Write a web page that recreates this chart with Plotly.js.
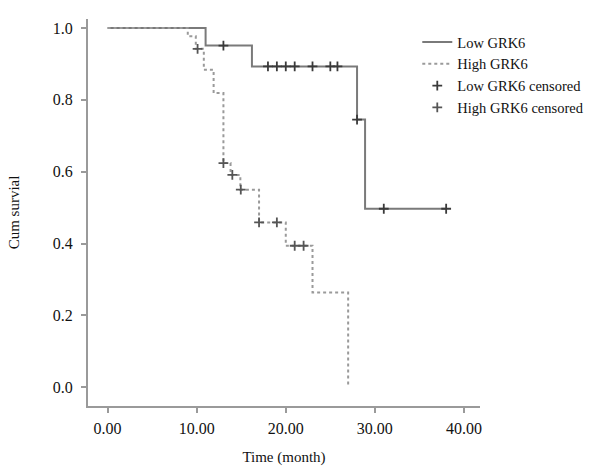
<!DOCTYPE html>
<html>
<head>
<meta charset="utf-8">
<script src="https://cdn.plot.ly/plotly-3.0.1.min.js"></script>
<style>html,body{margin:0;padding:0;background:#fff}#chart{width:615px;height:466px}</style>
</head>
<body>
<div id="chart"></div>
<script>
// Kaplan-Meier step points (time in months, cumulative survival)
const lowTime = [0, 11.0, 16.2, 28.0, 28.9, 38.0];
const lowSurv = [1.0, 0.951, 0.893, 0.745, 0.497, 0.497];
const highTime = [0, 9.0, 9.9, 10.8, 11.9, 13.0, 13.8, 14.9, 17.0, 20.0, 23.0, 27.0];
const highSurv = [1.0, 0.977, 0.942, 0.884, 0.819, 0.624, 0.591, 0.55, 0.459, 0.394, 0.264, 0.0];
// censored observations
const lowCensTime = [13.0, 18.0, 19.0, 20.0, 21.0, 23.0, 25.0, 25.8, 28.0, 31.0, 38.0];
const lowCensSurv = [0.951, 0.893, 0.893, 0.893, 0.893, 0.893, 0.893, 0.893, 0.745, 0.497, 0.497];
const highCensTime = [10.1, 13.0, 14.0, 14.95, 17.0, 19.0, 21.0, 22.0];
const highCensSurv = [0.942, 0.624, 0.591, 0.55, 0.459, 0.459, 0.394, 0.394];
const xTicks = [0, 10, 20, 30, 40];
const yTicks = [0.0, 0.2, 0.4, 0.6, 0.8, 1.0];

const serif = "Liberation Serif, Times New Roman, serif";
const traces = [
  {x: lowTime, y: lowSurv, name: 'Low GRK6', mode: 'lines', line: {shape: 'hv', color: '#7a7a7a', width: 2}},
  {x: highTime, y: highSurv, name: 'High GRK6', mode: 'lines', line: {shape: 'hv', color: '#9a9a9a', width: 2, dash: 'dot'}},
  {x: lowCensTime, y: lowCensSurv, name: 'Low GRK6 censored', mode: 'markers',
   marker: {symbol: 'cross-thin', size: 7, line: {width: 1.8, color: '#3a3a3a'}, color: '#3a3a3a'}},
  {x: highCensTime, y: highCensSurv, name: 'High GRK6 censored', mode: 'markers',
   marker: {symbol: 'cross-thin', size: 7, line: {width: 1.8, color: '#555'}, color: '#555'}}
];
const axisCommon = {
  showline: true, linecolor: '#9a9a9a', linewidth: 2,
  ticks: 'outside', ticklen: 5, tickwidth: 2, tickcolor: '#9a9a9a',
  showgrid: false, zeroline: false,
  tickfont: {family: serif, size: 16, color: '#111'}
};
const layout = {
  width: 615, height: 466,
  margin: {l: 88, r: 135, t: 19, b: 60},
  paper_bgcolor: '#fff', plot_bgcolor: '#fff',
  font: {family: serif, color: '#111'},
  showlegend: true,
  legend: {x: 0.84, y: 0.982, xanchor: 'left', yanchor: 'top', bgcolor: 'rgba(0,0,0,0)',
           font: {family: serif, size: 14.5, color: '#111'}, tracegroupgap: 0},
  xaxis: Object.assign({}, axisCommon, {
    range: [-2.2, 41.8], tickvals: xTicks, tickformat: '.2f', ticklabelstandoff: 2,
    title: {text: 'Time (month)', font: {family: serif, size: 15, color: '#111'}, standoff: 16}
  }),
  yaxis: Object.assign({}, axisCommon, {
    range: [-0.052, 1.025], tickvals: yTicks, tickformat: '.1f', ticklabelstandoff: 5,
    title: {text: 'Cum survial', font: {family: serif, size: 15, color: '#111'}, standoff: 30}
  })
};
Plotly.newPlot('chart', traces, layout, {displayModeBar: false, staticPlot: true});
</script>
</body>
</html>
